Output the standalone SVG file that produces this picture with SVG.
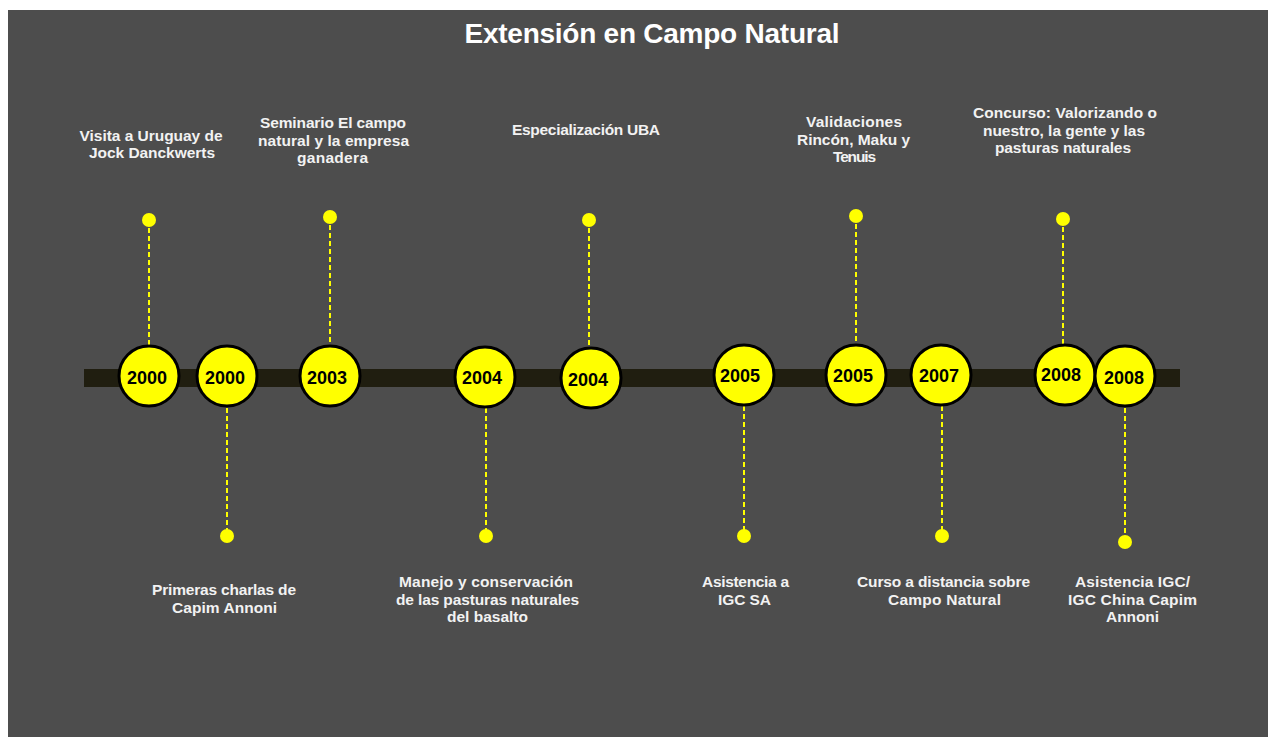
<svg xmlns="http://www.w3.org/2000/svg" width="1268" height="737" viewBox="0 0 1268 737">
<style>
.bg{fill:#4d4d4d}
.bar{fill:#201e10}
.yr{fill:#ffff00;stroke:#000;stroke-width:3}
.yt{font-family:"Liberation Sans",Arial,sans-serif;font-weight:bold;font-size:18px;fill:#000;text-anchor:middle}
.lbl{font-family:"Liberation Sans",Arial,sans-serif;font-weight:bold;font-size:15.5px;fill:#f2f2f2;text-anchor:middle}
.ttl{font-family:"Liberation Sans",Arial,sans-serif;font-weight:bold;font-size:28px;fill:#ffffff;text-anchor:middle}
.dot{fill:#ffff00}
.pin{stroke:#ffff00;stroke-width:2;stroke-dasharray:5 3;fill:none}
</style>
<rect x="0" y="0" width="1268" height="737" fill="#ffffff"/>
<rect class="bg" x="8" y="10" width="1260" height="727"/>
<text class="ttl" x="652" y="43" textLength="375" lengthAdjust="spacing">Extensión en Campo Natural</text>
<rect class="bar" x="84" y="369" width="1096" height="18"/>
<g id="connectors">
<line class="pin" x1="149" y1="220" x2="149" y2="346"/>
<line class="pin" x1="227" y1="408" x2="227" y2="536"/>
<line class="pin" x1="330" y1="217" x2="330" y2="346"/>
<line class="pin" x1="486" y1="408" x2="486" y2="536"/>
<line class="pin" x1="589" y1="220" x2="589" y2="348"/>
<line class="pin" x1="744" y1="406" x2="744" y2="536"/>
<line class="pin" x1="856" y1="216" x2="856" y2="345"/>
<line class="pin" x1="942" y1="406" x2="942" y2="536"/>
<line class="pin" x1="1063" y1="219" x2="1063" y2="345"/>
<line class="pin" x1="1125" y1="408" x2="1125" y2="542"/>
</g>
<g id="n1">
<circle class="yr" cx="149" cy="376" r="30"/>
<text class="yt" x="147" y="384">2000</text>
<circle class="dot" cx="149" cy="220" r="7"/>
<text class="lbl" x="151" y="141" textLength="143" lengthAdjust="spacing">Visita a Uruguay de</text>
<text class="lbl" x="152" y="158" textLength="126" lengthAdjust="spacing">Jock Danckwerts</text>
</g>
<g id="n2">
<circle class="yr" cx="227" cy="376" r="30"/>
<text class="yt" x="225" y="384">2000</text>
<circle class="dot" cx="227" cy="536" r="7"/>
<text class="lbl" x="224" y="595" textLength="144" lengthAdjust="spacing">Primeras charlas de</text>
<text class="lbl" x="224.5" y="613" textLength="105" lengthAdjust="spacing">Capim Annoni</text>
</g>
<g id="n3">
<circle class="yr" cx="330" cy="376" r="30"/>
<text class="yt" x="327" y="384">2003</text>
<circle class="dot" cx="330" cy="217" r="7"/>
<text class="lbl" x="333" y="128" textLength="146" lengthAdjust="spacing">Seminario El campo</text>
<text class="lbl" x="333.5" y="145.5" textLength="151" lengthAdjust="spacing">natural y la empresa</text>
<text class="lbl" x="332.5" y="163" textLength="71" lengthAdjust="spacing">ganadera</text>
</g>
<g id="n4">
<circle class="yr" cx="485" cy="377" r="30"/>
<text class="yt" x="482" y="384">2004</text>
<circle class="dot" cx="486" cy="536" r="7"/>
<text class="lbl" x="486" y="587" textLength="174" lengthAdjust="spacing">Manejo y conservación</text>
<text class="lbl" x="487.5" y="604.5" textLength="183" lengthAdjust="spacing">de las pasturas naturales</text>
<text class="lbl" x="487.5" y="622" textLength="81" lengthAdjust="spacing">del basalto</text>
</g>
<g id="n5">
<circle class="yr" cx="591" cy="378" r="30"/>
<text class="yt" x="588" y="386">2004</text>
<circle class="dot" cx="589" cy="220" r="7"/>
<text class="lbl" x="586" y="135" textLength="148" lengthAdjust="spacing">Especialización UBA</text>
</g>
<g id="n6">
<circle class="yr" cx="744" cy="375" r="30"/>
<text class="yt" x="740" y="382">2005</text>
<circle class="dot" cx="744" cy="536" r="7"/>
<text class="lbl" x="745.5" y="587" textLength="87" lengthAdjust="spacing">Asistencia a</text>
<text class="lbl" x="744.5" y="605" textLength="53" lengthAdjust="spacing">IGC SA</text>
</g>
<g id="n7">
<circle class="yr" cx="856" cy="375" r="30"/>
<text class="yt" x="853" y="382">2005</text>
<circle class="dot" cx="856" cy="216" r="7"/>
<text class="lbl" x="854" y="127" textLength="96" lengthAdjust="spacing">Validaciones</text>
<text class="lbl" x="853.5" y="144.5" textLength="113" lengthAdjust="spacing">Rincón, Maku y</text>
<text class="lbl" x="854.5" y="162" textLength="43" lengthAdjust="spacing">Tenuis</text>
</g>
<g id="n8">
<circle class="yr" cx="941" cy="375" r="30"/>
<text class="yt" x="939" y="382">2007</text>
<circle class="dot" cx="942" cy="536" r="7"/>
<text class="lbl" x="943.5" y="587" textLength="173" lengthAdjust="spacing">Curso a distancia sobre</text>
<text class="lbl" x="944.5" y="605" textLength="113" lengthAdjust="spacing">Campo Natural</text>
</g>
<g id="n9">
<circle class="yr" cx="1065" cy="375" r="30"/>
<text class="yt" x="1061" y="381">2008</text>
<circle class="dot" cx="1063" cy="219" r="7"/>
<text class="lbl" x="1065" y="118" textLength="184" lengthAdjust="spacing">Concurso: Valorizando o</text>
<text class="lbl" x="1064" y="136" textLength="162" lengthAdjust="spacing">nuestro, la gente y las</text>
<text class="lbl" x="1063" y="153" textLength="136" lengthAdjust="spacing">pasturas naturales</text>
</g>
<g id="n10">
<circle class="yr" cx="1125" cy="376" r="30"/>
<text class="yt" x="1124" y="384">2008</text>
<circle class="dot" cx="1125" cy="542" r="7"/>
<text class="lbl" x="1132.5" y="587" textLength="115" lengthAdjust="spacing">Asistencia IGC/</text>
<text class="lbl" x="1132.5" y="604.5" textLength="129" lengthAdjust="spacing">IGC China Capim</text>
<text class="lbl" x="1132.5" y="622" textLength="53" lengthAdjust="spacing">Annoni</text>
</g>
</svg>
